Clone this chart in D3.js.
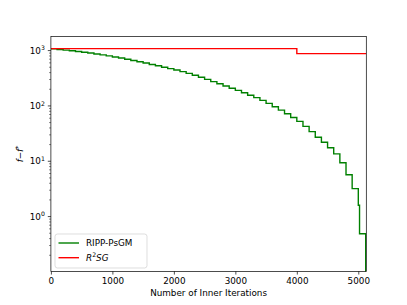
<html lang="en">
<head>
    <meta charset="UTF-8">
    <title></title>
    <script src="https://d3js.org/d3.v7.min.js"></script>
</head>
<style>
    body {
        margin: 0;
        background-color: #fff;
        overflow: hidden;
    }
    text {
        font-family: "DejaVu Sans", sans-serif;
        fill: #000;
    }
</style>
<body>
    <svg id="chart" width="407" height="305"></svg>

    <script>
        // RIPP-PsGM staircase (iteration where each step starts, value held after it)
        const psgmIters = [0, 100, 200, 300, 400, 500, 600, 700, 800, 900,
            1000, 1100, 1200, 1300, 1400, 1500, 1600, 1700, 1800, 1900,
            2000, 2100, 2200, 2300, 2400, 2500, 2600, 2700, 2800, 2900,
            3000, 3100, 3200, 3300, 3400, 3500, 3600, 3700, 3800, 3900,
            4000, 4100, 4200, 4300, 4400, 4500, 4600, 4700, 4800, 4900,
            5000, 5020, 5120];
        const psgmValues = [1072, 1047, 1021, 993, 964, 933, 902, 869, 836, 802,
            767, 733, 698, 664, 630, 596, 562, 531, 501, 473,
            447, 417, 387, 358, 330, 302, 275, 251, 229, 209,
            191, 173, 156, 141, 126, 111, 96.8, 83.8, 72.1, 61.8,
            52.5, 42.7, 34.3, 27.2, 22.1, 17.5, 13.6, 9.4, 5.7, 3.2,
            1.6, 0.49, 0.01];

        // R^2SG
        const r2sgIters = [0, 4000, 5130];
        const r2sgValues = [1085, 883, 883];

        const xTicks = [0, 1000, 2000, 3000, 4000, 5000];
        const yTickExps = [0, 1, 2, 3];
        const legendNames = ["RIPP-PsGM", "R2SG"];
        const lineColors = ["green", "red"];

        const svg = d3.select("svg#chart");
        const plot = { left: 50.9, right: 366.3, top: 36.6, bottom: 271.45 };
        const fontSize = 8.8;

        const x = d3.scaleLinear().domain([0, 5130]).range([plot.left, plot.right]);
        const y = d3.scaleLog().domain([0.102, 1790]).range([plot.bottom, plot.top]);

        svg.append("defs").append("clipPath").attr("id", "clip")
            .append("rect")
            .attr("x", plot.left).attr("y", plot.top)
            .attr("width", plot.right - plot.left)
            .attr("height", plot.bottom - plot.top);

        // lines
        var line = d3.line()
            .x(d => x(d[0]))
            .y(d => y(d[1]))
            .curve(d3.curveStepAfter);

        var series = [
            d3.zip(psgmIters, psgmValues),
            d3.zip(r2sgIters, r2sgValues)
        ];

        svg.append("g").attr("clip-path", "url(#clip)")
            .selectAll("path.series")
            .data(series)
            .join("path")
            .attr("class", "series")
            .attr("d", d => line(d))
            .attr("fill", "none")
            .attr("stroke", (d, i) => lineColors[i])
            .attr("stroke-width", 1.4)
            .attr("stroke-linejoin", "miter");

        // x axis
        var xAxis = d3.axisBottom(x)
            .tickValues(xTicks)
            .tickSize(3.1)
            .tickPadding(3)
            .tickFormat(d3.format("d"));
        var gx = svg.append("g")
            .attr("transform", "translate(0," + plot.bottom + ")")
            .call(xAxis);
        gx.select(".domain").remove();
        gx.selectAll("line").attr("stroke", "#000").attr("stroke-width", 0.7);
        gx.selectAll("text")
            .style("font-size", fontSize + "px")
            .style("font-family", "DejaVu Sans");

        // y axis, minor ticks first
        var minorTicks = [];
        for (var e = -1; e <= 3; e++) {
            for (var m = 2; m <= 9; m++) {
                var v = m * Math.pow(10, e);
                if (v > 0.102 && v < 1790) minorTicks.push(v);
            }
        }
        svg.append("g").selectAll("line.minor")
            .data(minorTicks)
            .join("line")
            .attr("class", "minor")
            .attr("x1", plot.left - 1.8).attr("x2", plot.left)
            .attr("y1", d => y(d)).attr("y2", d => y(d))
            .attr("stroke", "#000").attr("stroke-width", 0.5);

        var gy = svg.append("g");
        gy.selectAll("line.major")
            .data(yTickExps)
            .join("line")
            .attr("class", "major")
            .attr("x1", plot.left - 3.1).attr("x2", plot.left)
            .attr("y1", d => y(Math.pow(10, d))).attr("y2", d => y(Math.pow(10, d)))
            .attr("stroke", "#000").attr("stroke-width", 0.7);
        var yLabels = gy.selectAll("text.ylab")
            .data(yTickExps)
            .join("text")
            .attr("class", "ylab")
            .attr("x", plot.left - 6)
            .attr("y", d => y(Math.pow(10, d)) + 3.2)
            .attr("text-anchor", "end")
            .style("font-size", fontSize + "px");
        yLabels.append("tspan").text("10");
        yLabels.append("tspan")
            .attr("dy", -3.6)
            .style("font-size", (fontSize * 0.7) + "px")
            .text(d => d);

        // frame
        svg.append("rect")
            .attr("x", plot.left).attr("y", plot.top)
            .attr("width", plot.right - plot.left)
            .attr("height", plot.bottom - plot.top)
            .attr("fill", "none")
            .attr("stroke", "#000")
            .attr("stroke-width", 0.7);

        // axis titles
        svg.append("text")
            .attr("x", (plot.left + plot.right) / 2)
            .attr("y", 296)
            .attr("text-anchor", "middle")
            .style("font-size", fontSize + "px")
            .text("Number of Inner Iterations");

        var yt = svg.append("text")
            .attr("transform", "translate(23," + ((plot.top + plot.bottom) / 2) + ") rotate(-90)")
            .attr("text-anchor", "middle")
            .style("font-size", fontSize + "px");
        yt.append("tspan").style("font-style", "italic").text("f");
        yt.append("tspan").text("\u2212");
        yt.append("tspan").style("font-style", "italic").text("f");
        yt.append("tspan").attr("dy", -3.5).style("font-size", (fontSize * 0.7) + "px").text("*");

        // legend
        var legend = svg.append("g").attr("transform", "translate(55,234)");
        legend.append("rect")
            .attr("width", 92).attr("height", 34)
            .attr("rx", 2.5)
            .attr("fill", "#fff").attr("fill-opacity", 0.8)
            .attr("stroke", "#d0d0d0").attr("stroke-width", 0.7);
        var items = legend.selectAll("g.item")
            .data(legendNames)
            .join("g")
            .attr("class", "item")
            .attr("transform", (d, i) => "translate(0," + (9 + i * 14.7) + ")");
        items.append("line")
            .attr("x1", 3.5).attr("x2", 24)
            .attr("stroke", (d, i) => lineColors[i])
            .attr("stroke-width", 1.4);
        var itemText = items.append("text")
            .attr("x", 31)
            .attr("y", 3.2)
            .style("font-size", fontSize + "px");
        itemText.filter(d => d === "RIPP-PsGM").text(d => d);
        var r2 = itemText.filter(d => d === "R2SG");
        r2.append("tspan").style("font-style", "italic").text("R");
        r2.append("tspan").attr("dy", -3.5).style("font-size", (fontSize * 0.7) + "px").text("2");
        r2.append("tspan").attr("dy", 3.5).style("font-style", "italic").text("SG");
    </script>
</body>
</html>
